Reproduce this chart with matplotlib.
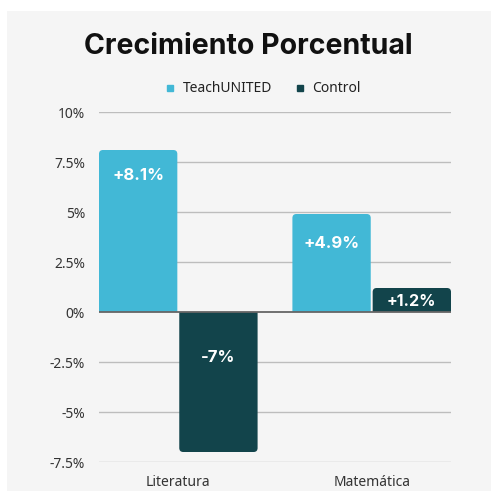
import numpy as np
import matplotlib.pyplot as plt
from matplotlib.patches import PathPatch, Rectangle
from matplotlib.path import Path
from matplotlib.lines import Line2D

categories = ["Literatura", "Matemática"]
series_names = ["TeachUNITED", "Control"]
teach = [8.1, 4.9]
control = [-7.0, 1.2]
labels_teach = ["+8.1%", "+4.9%"]
labels_control = ["-7%", "+1.2%"]
yticks = [10, 7.5, 5, 2.5, 0, -2.5, -5, -7.5]
ytick_labels = ["10%", "7.5%", "5%", "2.5%", "0%", "-2.5%", "-5%", "-7.5%"]

# where the value text sits inside each bar (data units)
label_y_teach = [6.85, 3.45]
label_y_control = [-2.25, 0.55]

col_teach = "#42b8d6"
col_control = "#12444b"
bg = "#f5f5f5"

plt.rcParams['font.family'] = ['Noto Sans', 'DejaVu Sans']

fig = plt.figure(figsize=(4.91, 4.91), dpi=100)
fig.patch.set_facecolor("white")
panel = Rectangle((7/491, 0), 1, (491-11)/491, transform=fig.transFigure,
                  facecolor=bg, edgecolor="none", zorder=-10)
fig.add_artist(panel)

ax = fig.add_axes([99/491, 29/491, 352/491, 350/491])
ax.patch.set_visible(False)

w = 0.405
x = np.arange(len(categories))
ax.set_xlim(-0.41, 1.41)
ax.set_ylim(-7.5, 10)

# corner radius of ~4px in data units
rx = 4 / (352/1.82)
ry = 4 / (350/17.5)


def rounded_bar(xc, v, color):
    l, rgt = xc - w/2, xc + w/2
    s = 1 if v >= 0 else -1
    verts = [(l, 0), (l, v - s*ry), (l, v), (l + rx, v), (rgt - rx, v),
             (rgt, v), (rgt, v - s*ry), (rgt, 0), (l, 0)]
    codes = [Path.MOVETO, Path.LINETO, Path.CURVE3, Path.CURVE3, Path.LINETO,
             Path.CURVE3, Path.CURVE3, Path.LINETO, Path.CLOSEPOLY]
    ax.add_patch(PathPatch(Path(verts, codes), facecolor=color,
                           edgecolor="none", zorder=3))


for i in range(len(categories)):
    rounded_bar(x[i] - w/2 - 0.005, teach[i], col_teach)
    rounded_bar(x[i] + w/2 + 0.005, control[i], col_control)
    ax.text(x[i] - w/2 - 0.005, label_y_teach[i], labels_teach[i], color="white",
            ha="center", va="center", fontsize=12, fontweight="bold",
            family=["Inter", "DejaVu Sans"], zorder=4)
    ax.text(x[i] + w/2 + 0.005, label_y_control[i], labels_control[i], color="white",
            ha="center", va="center", fontsize=11.5 if i else 12, fontweight="bold",
            family=["Inter", "DejaVu Sans"], zorder=4)

for t in yticks:
    ax.axhline(t, color="#666666" if t == 0 else "#bdbdbd",
               lw=1.3 if t == 0 else 1, zorder=1 if t else 5)

ax.set_yticks(yticks)
ax.set_yticklabels(ytick_labels)
ax.set_xticks(x)
ax.set_xticklabels(categories)
ax.tick_params(length=0, labelsize=10, colors="#333333")
ax.tick_params(axis="y", pad=10)
ax.tick_params(axis="x", pad=9)
for s in ax.spines.values():
    s.set_visible(False)

fig.text(248/491, 1 - 46/491, "Crecimiento Porcentual", ha="center", va="center",
         fontsize=20.5, fontweight="bold", family=["Inter", "DejaVu Sans"], color="#111111")

handles = [Line2D([], [], marker="s", ls="none", color=c, markersize=5) for c in (col_teach, col_control)]
fig.legend(handles, series_names, loc="center", bbox_to_anchor=(263/491, 1 - 89/491),
           ncol=2, frameon=False, fontsize=10, handlelength=0.8, handletextpad=0.5,
           columnspacing=1.6, labelcolor="#222222")

fig.savefig("out.png", dpi=100, facecolor="white")
